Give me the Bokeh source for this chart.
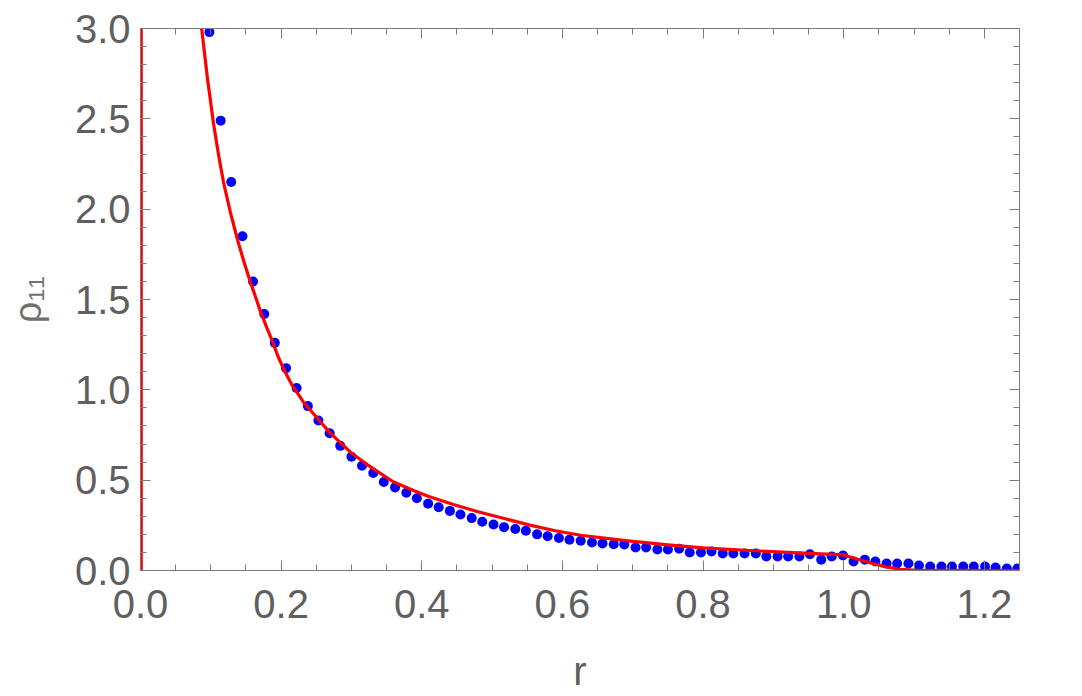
from bokeh.plotting import figure
from bokeh.models import (Range1d, LinearAxis, SingleIntervalTicker, PrintfTickFormatter,
                          CustomJSTickFormatter)
from bokeh.embed import file_html
from bokeh.resources import INLINE

# ---- data ----
r_dots = [0.098, 0.114, 0.129, 0.145, 0.160, 0.176, 0.191, 0.207, 0.222, 0.238,
          0.253, 0.269, 0.284, 0.300, 0.315, 0.331, 0.346, 0.362, 0.378, 0.393,
          0.409, 0.424, 0.440, 0.455, 0.471, 0.486, 0.502, 0.517, 0.533, 0.548,
          0.564, 0.579, 0.595, 0.610, 0.626, 0.642, 0.657, 0.673, 0.688, 0.704,
          0.719, 0.735, 0.750, 0.766, 0.781, 0.797, 0.812, 0.828, 0.843, 0.859,
          0.875, 0.890, 0.906, 0.921, 0.937, 0.952, 0.968, 0.983, 0.999, 1.014,
          1.030, 1.045, 1.061, 1.076, 1.092, 1.107, 1.123, 1.139, 1.154, 1.170,
          1.185, 1.201, 1.216, 1.232, 1.247]
rho_dots = [2.98, 2.49, 2.15, 1.85, 1.60, 1.42, 1.26, 1.12, 1.01, 0.91,
            0.83, 0.76, 0.69, 0.63, 0.58, 0.54, 0.49, 0.46, 0.43, 0.40,
            0.37, 0.35, 0.33, 0.31, 0.29, 0.27, 0.255, 0.24, 0.23, 0.22,
            0.20, 0.19, 0.18, 0.17, 0.165, 0.155, 0.15, 0.145, 0.144, 0.127,
            0.127, 0.116, 0.116, 0.12, 0.10, 0.10, 0.105, 0.094, 0.094, 0.094,
            0.094, 0.077, 0.077, 0.077, 0.077, 0.09, 0.06, 0.077, 0.083, 0.05,
            0.06, 0.05, 0.039, 0.039, 0.039, 0.028, 0.022, 0.022, 0.022, 0.022,
            0.022, 0.022, 0.017, 0.011, 0.011]

r_curve = [0.001, 0.001, 0.087, 0.095, 0.104, 0.111, 0.118, 0.128, 0.138, 0.147,
           0.156, 0.164, 0.171, 0.180, 0.188, 0.195, 0.203, 0.215, 0.232, 0.25,
           0.27, 0.30, 0.323, 0.34, 0.36, 0.39, 0.41, 0.445, 0.48, 0.52,
           0.555, 0.59, 0.626, 0.69, 0.75, 0.80, 0.86, 0.92, 0.96, 1.0,
           1.02, 1.04, 1.06, 1.08, 1.10, 1.25]
rho_curve = [0.0, 3.3, 3.0, 2.73, 2.47, 2.30, 2.15, 1.98, 1.83, 1.71,
             1.60, 1.51, 1.43, 1.34, 1.265, 1.19, 1.12, 1.03, 0.93, 0.85,
             0.76, 0.65, 0.585, 0.54, 0.49, 0.44, 0.41, 0.365, 0.325, 0.285,
             0.25, 0.22, 0.195, 0.165, 0.142, 0.125, 0.112, 0.10, 0.093, 0.086,
             0.062, 0.040, 0.020, 0.007, 0.002, 0.0]

x_limits = (0.0, 1.25)
y_limits = (0.0, 3.0)
x_label = "r"
y_label = "ρ₁₁"

FRAME = "#7a7a7a"
TXT = "#5f5f5f"
FONT = "Liberation Sans"

p = figure(width=1082, height=696, output_backend="svg", toolbar_location=None,
           x_range=Range1d(*x_limits), y_range=Range1d(*y_limits),
           x_axis_location=None, y_axis_location=None,
           min_border_left=140, min_border_right=63, min_border_top=28, min_border_bottom=126)
p.xgrid.visible = False
p.ygrid.visible = False
p.outline_line_color = FRAME
p.background_fill_color = "white"
p.border_fill_color = "white"

p.scatter(r_dots, rho_dots, size=10, color="#0000ff", line_color=None)
p.line(r_curve, rho_curve, line_color="#ff0000", line_width=3.2, line_join="round")


def make_axis(ticker, labelled, fmt):
    ax = LinearAxis(ticker=ticker)
    ax.axis_line_color = FRAME
    ax.major_tick_line_color = FRAME
    ax.minor_tick_line_color = FRAME
    ax.major_tick_in = 10
    ax.major_tick_out = 0
    ax.minor_tick_in = 6
    ax.minor_tick_out = 0
    if labelled:
        ax.formatter = PrintfTickFormatter(format=fmt)
        ax.major_label_text_font = FONT
        ax.major_label_text_font_size = "40px"
        ax.major_label_text_color = TXT
    else:
        ax.formatter = CustomJSTickFormatter(code="return ''")
        ax.major_label_text_font_size = "1px"
        ax.major_label_standoff = 0
    return ax


xt = lambda: SingleIntervalTicker(interval=0.2, num_minor_ticks=4)
yt = lambda: SingleIntervalTicker(interval=0.5, num_minor_ticks=5)

xb = make_axis(xt(), True, "%.1f")
xb.major_label_standoff = 19
xb.axis_label = x_label
xb.axis_label_text_font = FONT
xb.axis_label_text_font_style = "normal"
xb.axis_label_text_font_size = "40px"
xb.axis_label_text_color = TXT
xb.axis_label_standoff = 28
p.add_layout(xb, "below")

yl = make_axis(yt(), True, "%.1f")
yl.major_label_standoff = 10
yl.axis_label = y_label
yl.axis_label_text_font = FONT
yl.axis_label_text_font_style = "normal"
yl.axis_label_text_font_size = "38px"
yl.axis_label_text_color = "#707070"
yl.axis_label_standoff = 23
p.add_layout(yl, "left")

p.add_layout(make_axis(xt(), False, None), "above")
p.add_layout(make_axis(yt(), False, None), "right")

open("out.html", "w").write(file_html(p, INLINE))
